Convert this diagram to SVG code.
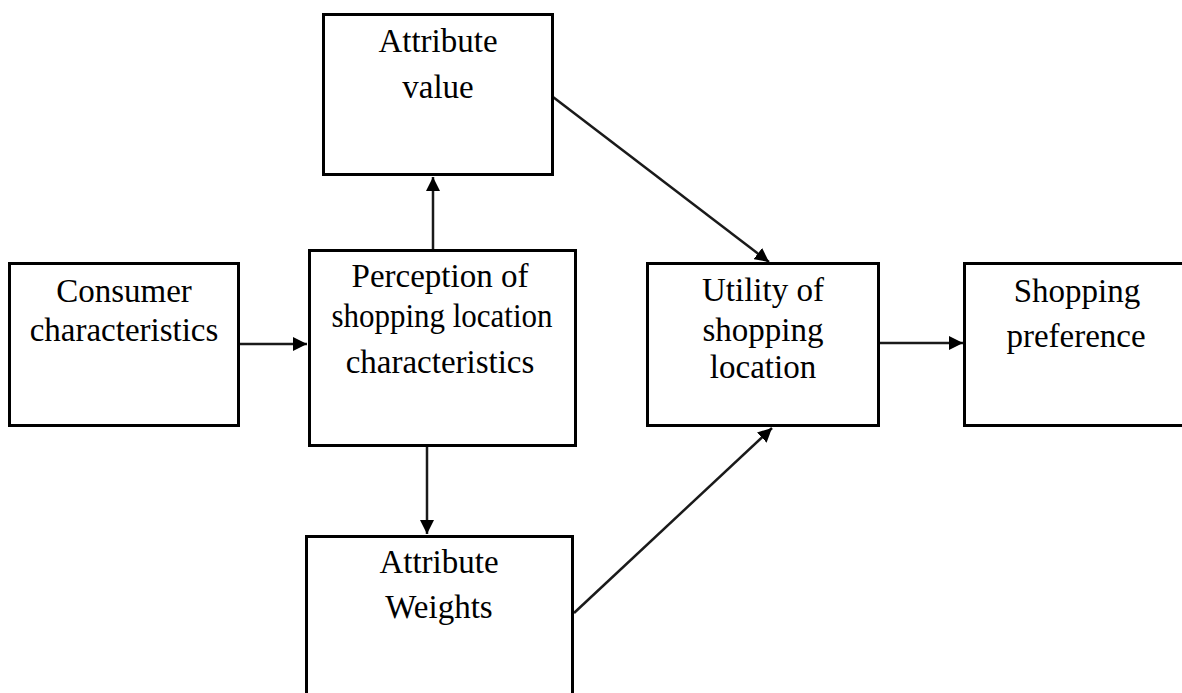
<svg xmlns="http://www.w3.org/2000/svg" width="1182" height="693" viewBox="0 0 1182 693">
<style>
.box{fill:#fff;stroke:#000;stroke-width:3}
.lbl{font-family:"Liberation Serif","Times New Roman",serif;font-size:33px;fill:#000;text-anchor:middle}
.con{stroke:#1a1a1a;stroke-width:2.5;fill:none}
</style>
<defs>
<marker id="ah" viewBox="0 0 10 10" refX="10" refY="5" markerWidth="14" markerHeight="14" markerUnits="userSpaceOnUse" orient="auto">
<path d="M0,0 L10,5 L0,10 z" fill="#000"/>
</marker>
</defs>
<rect width="1182" height="693" fill="#fff"/>
<g id="connectors">
<line class="con" x1="433" y1="249" x2="433" y2="177" marker-end="url(#ah)"/>
<line class="con" x1="239" y1="344" x2="307" y2="344" marker-end="url(#ah)"/>
<line class="con" x1="427" y1="447" x2="427" y2="534" marker-end="url(#ah)"/>
<line class="con" x1="553" y1="97" x2="769" y2="262" marker-end="url(#ah)"/>
<line class="con" x1="574" y1="613" x2="772" y2="428" marker-end="url(#ah)"/>
<line class="con" x1="879" y1="343" x2="963" y2="343" marker-end="url(#ah)"/>
</g>
<g id="attribute-value">
<rect class="box" x="323.5" y="14.5" width="229" height="160"/>
<text class="lbl" x="438" y="52">Attribute</text>
<text class="lbl" x="438" y="98">value</text>
</g>
<g id="consumer">
<rect class="box" x="9.5" y="263.5" width="229" height="162"/>
<text class="lbl" x="124" y="302">Consumer</text>
<text class="lbl" x="124" y="341">characteristics</text>
</g>
<g id="perception">
<rect class="box" x="309.5" y="250.5" width="266" height="195"/>
<text class="lbl" x="440" y="287">Perception of</text>
<text class="lbl" x="442" y="327" textLength="221" lengthAdjust="spacingAndGlyphs">shopping location</text>
<text class="lbl" x="440" y="373">characteristics</text>
</g>
<g id="weights">
<rect class="box" x="306.5" y="536.5" width="266" height="170"/>
<text class="lbl" x="439" y="573">Attribute</text>
<text class="lbl" x="439" y="618">Weights</text>
</g>
<g id="utility">
<rect class="box" x="647.5" y="263.5" width="231" height="162"/>
<text class="lbl" x="763" y="301">Utility of</text>
<text class="lbl" x="763" y="341">shopping</text>
<text class="lbl" x="763" y="378">location</text>
</g>
<g id="shopping-preference">
<rect class="box" x="964.5" y="263.5" width="230" height="162"/>
<text class="lbl" x="1077" y="302">Shopping</text>
<text class="lbl" x="1076" y="347">preference</text>
</g>
</svg>
